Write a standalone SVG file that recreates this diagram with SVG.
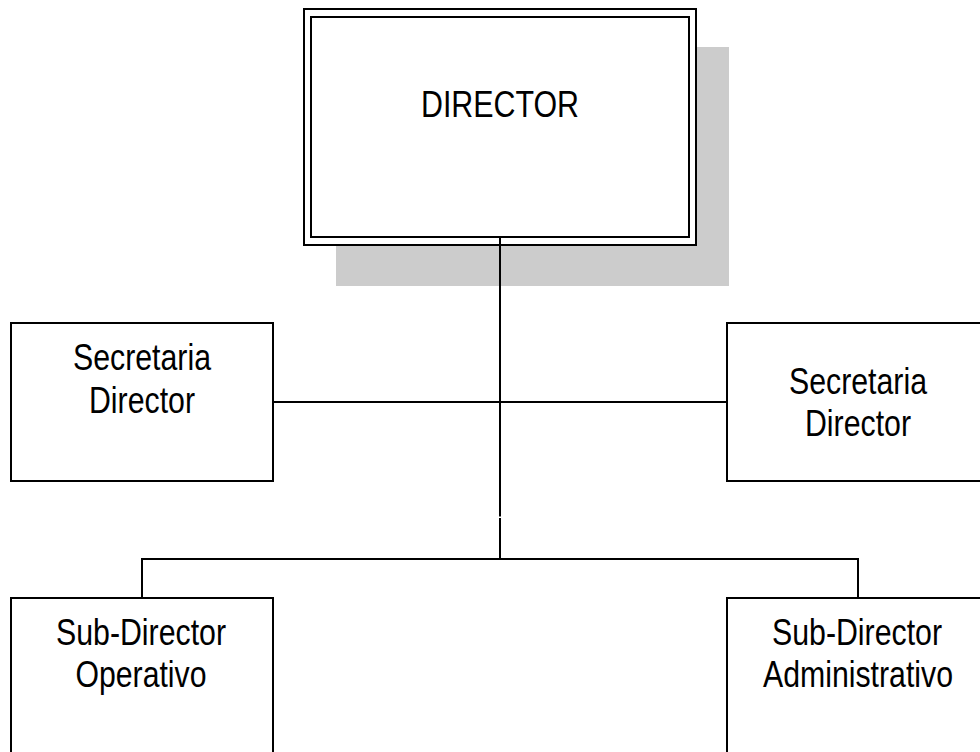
<svg xmlns="http://www.w3.org/2000/svg" width="980" height="752" viewBox="0 0 980 752">
  <style>
    .box { fill: #ffffff; stroke: #000000; stroke-width: 2; }
    .shadow { fill: #cccccc; stroke: none; }
    .wire { fill: none; stroke: #000000; stroke-width: 2; }
    .label { font-family: "Liberation Sans", Arial, sans-serif; font-size: 36px; fill: #000000; text-anchor: middle; }
  </style>
  <rect width="980" height="752" fill="#ffffff"/>

  <!-- top node: director with drop shadow and double frame -->
  <g id="director">
    <rect class="shadow" x="336" y="47" width="393" height="239"/>
    <rect class="box" x="304" y="9" width="392" height="236"/>
    <rect class="box" x="311" y="17" width="378" height="220"/>
    <text class="label" x="500" y="117" textLength="158" lengthAdjust="spacingAndGlyphs">DIRECTOR</text>
  </g>

  <!-- connectors -->
  <g id="connectors">
    <line class="wire" x1="500" y1="237" x2="500" y2="516.5"/>
    <line class="wire" x1="500" y1="518" x2="500" y2="560"/>
    <line class="wire" x1="273" y1="402" x2="727" y2="402"/>
    <polyline class="wire" points="142,598 142,559 858,559 858,598"/>
  </g>

  <g id="secretaria-left">
    <rect class="box" x="11" y="323" width="262" height="158"/>
    <text class="label" x="142" y="370" textLength="138" lengthAdjust="spacingAndGlyphs">Secretaria</text>
    <text class="label" x="142" y="413" textLength="106" lengthAdjust="spacingAndGlyphs">Director</text>
  </g>

  <g id="secretaria-right">
    <rect class="box" x="727" y="323" width="264" height="158"/>
    <text class="label" x="858" y="394" textLength="138" lengthAdjust="spacingAndGlyphs">Secretaria</text>
    <text class="label" x="858" y="436" textLength="106" lengthAdjust="spacingAndGlyphs">Director</text>
  </g>

  <g id="subdirector-operativo">
    <rect class="box" x="11" y="598" width="262" height="170"/>
    <text class="label" x="141" y="645" textLength="170" lengthAdjust="spacingAndGlyphs">Sub-Director</text>
    <text class="label" x="141" y="687" textLength="131" lengthAdjust="spacingAndGlyphs">Operativo</text>
  </g>

  <g id="subdirector-administrativo">
    <rect class="box" x="727" y="598" width="264" height="170"/>
    <text class="label" x="857" y="645" textLength="170" lengthAdjust="spacingAndGlyphs">Sub-Director</text>
    <text class="label" x="858" y="687" textLength="190" lengthAdjust="spacingAndGlyphs">Administrativo</text>
  </g>
</svg>
